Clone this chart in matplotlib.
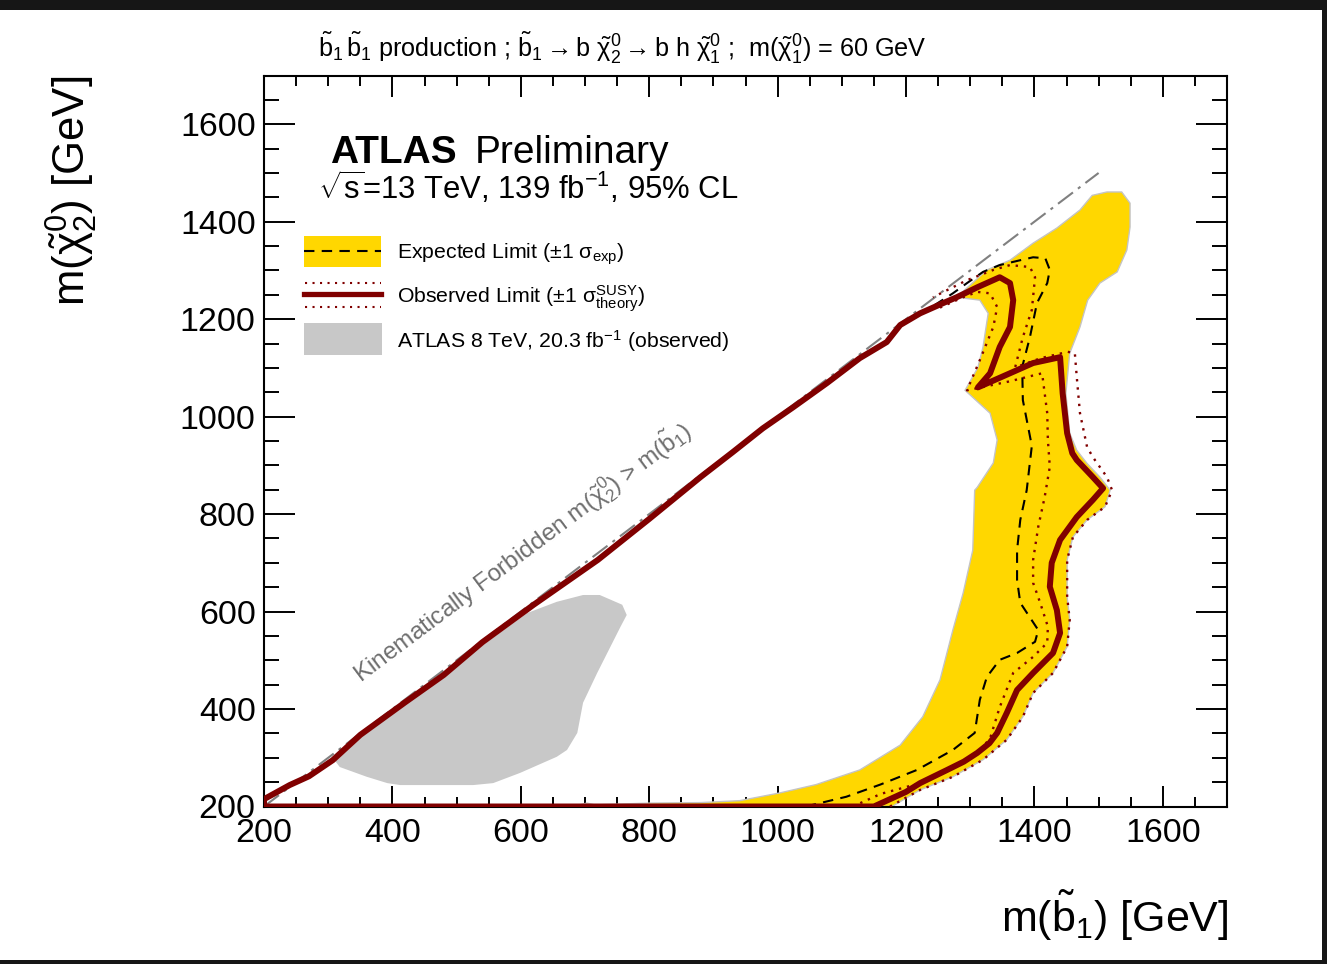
import matplotlib
matplotlib.use('Agg')
import matplotlib.pyplot as plt
from matplotlib.patches import Rectangle, Polygon
from matplotlib.lines import Line2D
from matplotlib.ticker import MultipleLocator

# --- Fonts ---
plt.rcParams['font.family'] = ['Liberation Sans', 'DejaVu Sans']
plt.rcParams['mathtext.fontset'] = 'custom'
plt.rcParams['mathtext.rm'] = 'Liberation Sans'
plt.rcParams['mathtext.it'] = 'Liberation Sans:italic'
plt.rcParams['mathtext.bf'] = 'Liberation Sans:bold'
plt.rcParams['mathtext.sf'] = 'Liberation Sans'

# --- Data (GeV) ---
# observed limit contour: bottom edge, right side, hook, back down the diagonal
obs_x = [200, 1150, 1200, 1222, 1264, 1290, 1311, 1330, 1342, 1357, 1373, 1398, 1429, 1440, 1435,
         1424, 1427, 1440, 1466, 1491, 1507, 1491, 1466, 1459, 1451, 1444, 1440,
         1398, 1362, 1312,
         1331, 1346, 1362, 1367, 1362, 1346, 1312, 1279,
         1258, 1222, 1191, 1170, 1128, 1077, 1024, 977, 930, 880, 800, 720, 620, 540, 480, 420, 350, 307,
         270, 240, 200, 200]
obs_y = [200, 200, 230, 248, 275, 292, 310, 330, 351, 392, 439, 474, 515, 556, 603,
         651, 700, 747, 794, 829, 853, 876, 911, 925, 966, 1048, 1122,
         1110, 1089, 1060,
         1089, 1143, 1184, 1239, 1274, 1286, 1266, 1245,
         1233, 1212, 1188, 1153, 1120, 1069, 1019, 976, 927, 876, 790, 706, 614, 537, 470, 414, 347, 295,
         262, 244, 215, 200]

# expected limit contour
exp_x = [1044, 1107, 1160, 1217, 1273, 1307, 1315, 1326, 1346, 1373, 1401, 1406, 1378, 1373, 1373,
         1378, 1388, 1396, 1382, 1381, 1393, 1404, 1420, 1424, 1417, 1398, 1378, 1346, 1320, 1295,
         1273, 1240]
exp_y = [200, 220, 245, 275, 316, 351, 419, 466, 501, 515, 538, 562, 618, 665, 726,
         788, 849, 940, 1034, 1102, 1163, 1233, 1274, 1301, 1325, 1327, 1321, 1311, 1297, 1274,
         1253, 1225]

# observed -1 sigma theory
obs_dn_x = [1117, 1161, 1217, 1270, 1315, 1331, 1346, 1367, 1398, 1420, 1421, 1409, 1398, 1398,
            1406, 1416, 1424, 1421, 1420, 1412, 1360, 1295, 1315, 1336, 1342, 1331, 1311, 1289, 1250]
obs_dn_y = [200, 226, 246, 278, 315, 340, 404, 474, 507, 536, 569, 618, 659, 706,
            774, 835, 897, 952, 1007, 1089, 1072, 1054, 1116, 1184, 1225, 1253, 1256, 1245, 1222]

# observed +1 sigma theory
obs_up_x = [1175, 1222, 1273, 1320, 1357, 1382, 1398, 1429, 1451, 1455, 1451, 1451, 1460, 1482,
            1510, 1521, 1513, 1491, 1482, 1471, 1466, 1463, 1452, 1410, 1370, 1382, 1396, 1401,
            1393, 1362, 1336, 1295, 1242]
obs_up_y = [200, 234, 261, 296, 337, 384, 433, 474, 528, 583, 630, 706, 753, 788,
            815, 849, 876, 917, 938, 1007, 1081, 1130, 1133, 1120, 1101, 1163, 1219, 1286,
            1307, 1311, 1301, 1280, 1245]

# expected +-1 sigma band outline
band_x = [672, 690, 703, 716, 730, 800, 880, 941, 1004, 1060, 1128, 1191, 1226, 1253, 1273, 1289,
          1304, 1307, 1311, 1336, 1342, 1331, 1292, 1312, 1320, 1328, 1315, 1279,
          1326, 1362, 1398, 1435, 1471, 1490, 1513, 1536, 1549, 1549, 1544, 1529, 1502, 1483,
          1471, 1455, 1449, 1455, 1466, 1482, 1502, 1518, 1510, 1482, 1460, 1451, 1451, 1455,
          1451, 1429, 1398, 1382, 1357, 1320, 1273, 1222, 1178]
band_y = [200, 203, 207, 203, 204, 207, 208, 212, 228, 245, 275, 326, 384, 460, 562, 638,
          726, 849, 855, 905, 952, 1007, 1054, 1101, 1143, 1212, 1239, 1245,
          1301, 1321, 1356, 1387, 1424, 1454, 1461, 1461, 1438, 1389, 1342, 1297, 1274, 1239,
          1184, 1130, 1048, 966, 931, 904, 876, 849, 815, 788, 753, 706, 630, 583,
          528, 474, 433, 384, 337, 296, 261, 234, 200]

# ATLAS 8 TeV observed region
run1_x = [307, 318, 360, 392, 412, 526, 557, 599, 656, 672, 688, 697, 719, 755, 765, 758,
          723, 697, 656, 610, 540, 420, 350]
run1_y = [300, 281, 261, 248, 244, 244, 248, 269, 302, 316, 351, 413, 474, 568, 593, 614,
          634, 634, 620, 597, 530, 410, 343]

kin_x = [200, 1500]
kin_y = [200, 1500]

# --- Style ---
W, H = 1327, 964
YELLOW = '#ffd700'
RED = '#800000'
GREY = '#c8c8c8'


def fx(x):
    return x / W


def fy(y):
    return 1 - y / H


fig = plt.figure(figsize=(W / 100, H / 100), dpi=100)
fig.patch.set_facecolor('#161616')
fig.add_artist(Rectangle((0, fy(960)), 1322 / W, 950 / H, transform=fig.transFigure,
                         facecolor='white', edgecolor='none', zorder=-5))

ax = fig.add_axes([fx(264), fy(806.5), (1227 - 264) / W, (806.5 - 75.5) / H])
ax.set_xlim(200, 1700)
ax.set_ylim(200, 1700)

# --- Contours ---
ax.add_patch(Polygon(list(zip(run1_x, run1_y)), closed=True, facecolor=GREY, edgecolor='none', zorder=1))
ax.add_patch(Polygon(list(zip(band_x, band_y)), closed=True, facecolor=YELLOW,
                     edgecolor='#c4c4c4', linewidth=1.0, zorder=2))
ax.plot(kin_x, kin_y, color='#808080', lw=1.5, dashes=(9, 3, 1.5, 3), zorder=3)
ax.plot(exp_x, exp_y, color='black', lw=1.5, dashes=(5, 3.5), zorder=4)
ax.plot(obs_dn_x, obs_dn_y, color=RED, lw=1.7, dashes=(1, 2.5), zorder=5)
ax.plot(obs_up_x, obs_up_y, color=RED, lw=1.7, dashes=(1, 2.5), zorder=5)
ax.plot(obs_x, obs_y, color=RED, lw=4.3, solid_joinstyle='round', zorder=6)

ax.text(603, 722, r"Kinematically Forbidden m($\tilde{\mathrm{\chi}}^{0}_{2}$) > m($\tilde{\mathrm{b}}_{1}$)",
        rotation=36.8, rotation_mode='anchor', ha='center', va='center',
        fontsize=17.6, color='#6e6e6e', zorder=7)

# --- Axes / ticks ---
ax.set_xticks(range(200, 1700, 200))
ax.set_yticks(range(200, 1700, 200))
ax.xaxis.set_minor_locator(MultipleLocator(50))
ax.yaxis.set_minor_locator(MultipleLocator(50))
ax.tick_params(which='both', direction='in', top=True, right=True, width=1.4, colors='black')
ax.tick_params(axis='x', which='major', length=15, pad=8, labelsize=24.5)
ax.tick_params(axis='x', which='minor', length=7.5)
ax.tick_params(axis='y', which='major', length=22, pad=6, labelsize=24.5)
ax.tick_params(axis='y', which='minor', length=11)
for s in ax.spines.values():
    s.set_linewidth(1.5)

fig.text(fx(1228), fy(932), r"m($\tilde{\mathrm{b}}_{1}$) [GeV]", ha='right', va='baseline', fontsize=31)
fig.text(fx(72), fy(76), r"m($\tilde{\mathrm{\chi}}^{0}_{2}$) [GeV]", rotation=90,
         ha='center', va='top', fontsize=31.5)

# --- Labels on top ---
title = (r"$\tilde{\mathrm{b}}_{1}\,\tilde{\mathrm{b}}_{1}$ production ; "
         r"$\tilde{\mathrm{b}}_{1}\rightarrow\mathrm{b}\ \tilde{\mathrm{\chi}}^{0}_{2}"
         r"\rightarrow\mathrm{b}\ \mathrm{h}\ \tilde{\mathrm{\chi}}^{0}_{1}$ ;  "
         r"m($\tilde{\mathrm{\chi}}^{0}_{1}$) = 60 GeV")
fig.text(fx(318), fy(57), title, ha='left', va='baseline', fontsize=18.2)

fig.text(fx(330), fy(163), "ATLAS", fontweight='bold', fontsize=28, va='baseline')
fig.text(fx(475), fy(163), "Preliminary", fontsize=28, va='baseline')
fig.text(fx(318), fy(199), r"$\sqrt{\mathrm{s}}$=13 TeV, 139 fb$^{-1}$, 95% CL", fontsize=22.3, va='baseline')

# --- Legend (drawn by hand, ROOT style) ---
fig.add_artist(Rectangle((fx(304), fy(266.7)), 77 / W, 31 / H, transform=fig.transFigure,
                         facecolor=YELLOW, edgecolor='none'))
fig.add_artist(Line2D([fx(304), fx(381)], [fy(251), fy(251)], transform=fig.transFigure,
                      color='black', lw=1.5, dashes=(5, 3.5)))
fig.add_artist(Line2D([fx(304), fx(381)], [fy(294.3), fy(294.3)], transform=fig.transFigure,
                      color=RED, lw=3.8))
for yy in (282.7, 307.3):
    fig.add_artist(Line2D([fx(305), fx(381)], [fy(yy), fy(yy)], transform=fig.transFigure,
                          color=RED, lw=1.5, dashes=(1, 2.6)))
fig.add_artist(Rectangle((fx(304), fy(355)), 78 / W, 32 / H, transform=fig.transFigure,
                         facecolor=GREY, edgecolor='none'))

leg_labels = [r"Expected Limit (±1 $\mathrm{\sigma}_{\mathrm{exp}}$)",
              r"Observed Limit (±1 $\mathrm{\sigma}^{\mathrm{SUSY}}_{\mathrm{theory}}$)",
              r"ATLAS 8 TeV, 20.3 fb$^{-1}$ (observed)"]
for lab, yb in zip(leg_labels, [258.3, 303.3, 347.7]):
    fig.text(fx(397), fy(yb), lab, fontsize=15.3, va='baseline')

fig.savefig('out.png', dpi=100, facecolor=fig.get_facecolor())
